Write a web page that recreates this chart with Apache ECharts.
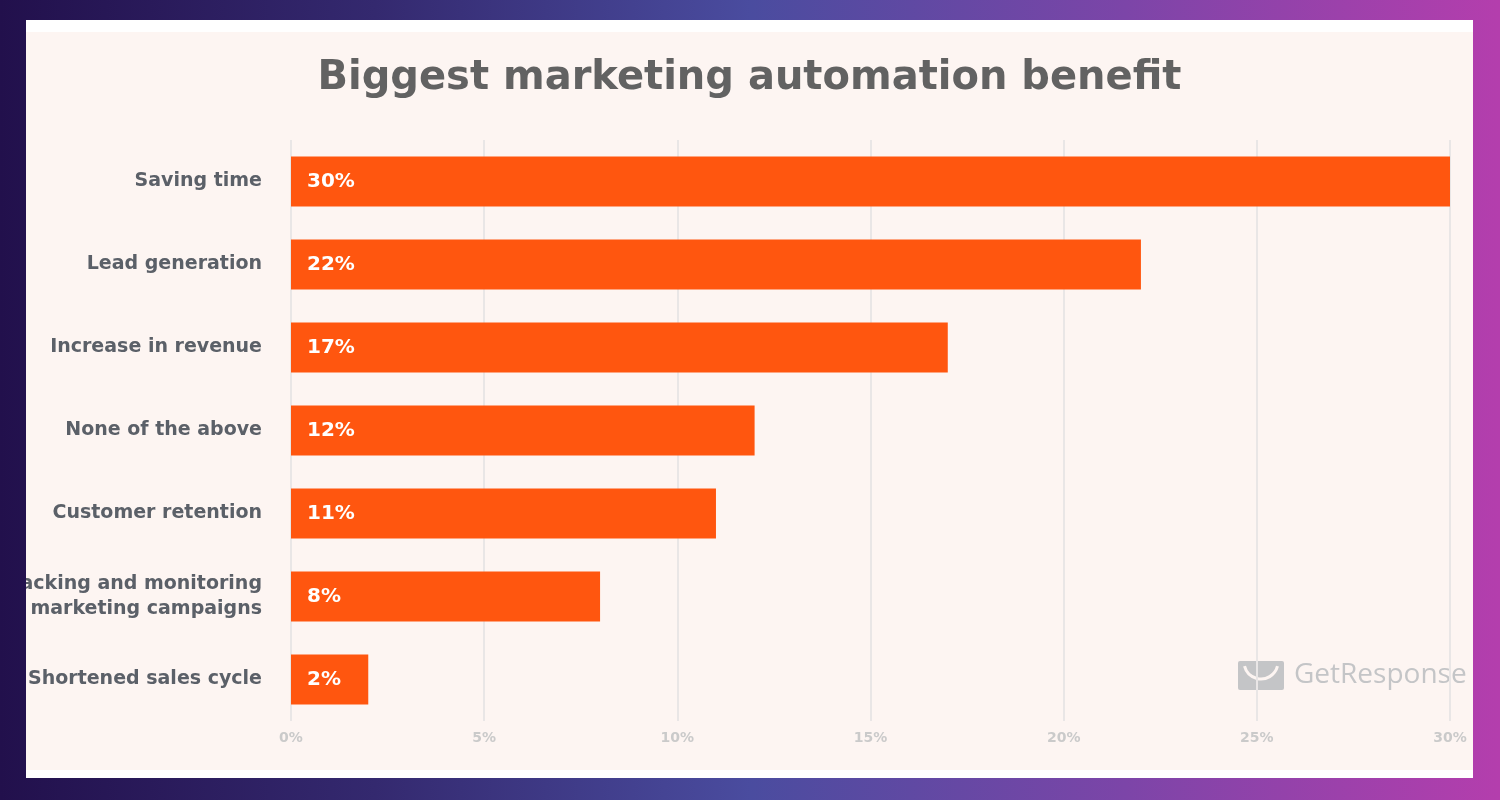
<!DOCTYPE html>
<html lang="en">

<head>
    <meta charset="UTF-8">
    <title>Biggest marketing automation benefit</title>
    <script src="https://cdn.jsdelivr.net/npm/echarts@6/dist/echarts.min.js"></script>
    <style>
        html, body { margin: 0; padding: 0; }
        body {
            width: 1500px; height: 800px; overflow: hidden; position: relative;
            background: linear-gradient(90deg, #22104c 0%, #34296f 25%, #4a4c9f 50%, #7c45a8 75%, #b43ead 100%);
        }
        #panel {
            position: absolute; left: 26px; top: 20px; width: 1447px; height: 758px;
            background: #ffffff;
        }
        #chart {
            position: absolute; left: 0; top: 12px; width: 1447px; height: 738px;
            background: #fdf5f2;
        }
    </style>
</head>

<body>
    <div id="panel"><div id="chart"></div></div>
    <script>
        // categories top -> bottom
        const categories = [
            'Saving time',
            'Lead generation',
            'Increase in revenue',
            'None of the above',
            'Customer retention',
            'Tracking and monitoring\nmarketing campaigns',
            'Shortened sales cycle'
        ];
        const values = [30, 22, 17, 12, 11, 8, 2];
        const xTicks = [0, 5, 10, 15, 20, 25, 30];

        const myChart = echarts.init(document.getElementById('chart'));

        const option = {
            backgroundColor: '#fdf5f2',
            title: {
                text: 'Biggest marketing automation benefit',
                left: 'center',
                top: 22,
                textStyle: {
                    fontFamily: 'DejaVu Sans',
                    fontWeight: 'bold',
                    fontSize: 40,
                    color: '#626262'
                }
            },
            grid: {
                left: 265,
                right: 23,
                top: 108,
                bottom: 49,
                outerBoundsMode: 'none'
            },
            xAxis: {
                type: 'value',
                min: 0,
                max: 30,
                interval: 5,
                axisLine: { show: false },
                axisTick: { show: false },
                splitLine: { lineStyle: { color: '#e9e6e6', width: 2 } },
                axisLabel: {
                    margin: 10,
                    color: '#cacaca',
                    fontFamily: 'DejaVu Sans',
                    fontWeight: 'bold',
                    fontSize: 14,
                    formatter: v => xTicks.includes(v) ? v + '%' : ''
                }
            },
            yAxis: {
                type: 'category',
                inverse: true,
                data: categories,
                axisLine: { show: false },
                axisTick: { show: false },
                axisLabel: {
                    margin: 29,
                    color: '#5b6068',
                    fontFamily: 'DejaVu Sans',
                    fontWeight: 'bold',
                    fontSize: 19,
                    lineHeight: 25
                }
            },
            series: [{
                type: 'bar',
                data: values,
                barWidth: 50,
                itemStyle: { color: '#ff560f' },
                label: {
                    show: true,
                    position: 'insideLeft',
                    distance: 16,
                    formatter: '{c}%',
                    color: '#ffffff',
                    fontFamily: 'DejaVu Sans',
                    fontWeight: 'bold',
                    fontSize: 20
                }
            }],
            graphic: [{
                type: 'group',
                right: 4,
                top: 624,
                children: [
                    { type: 'rect', shape: { x: -4, y: -4, width: 235, height: 42 }, style: { fill: '#fdf5f2' } },
                    { type: 'rect', shape: { x: 0, y: 1, width: 46, height: 29, r: 2 }, style: { fill: '#c4c5c7' } },
                    { type: 'arc', shape: { cx: 23, cy: 2, r: 17, startAngle: 0.25, endAngle: Math.PI - 0.25 }, style: { stroke: '#fdf5f2', lineWidth: 3, fill: null } },
                    { type: 'text', x: 56, y: 1, style: { text: 'GetResponse', font: '28px "Open Sans"', fill: '#c4c5c7' } }
                ]
            }]
        };

        myChart.setOption(option);
    </script>
</body>

</html>
